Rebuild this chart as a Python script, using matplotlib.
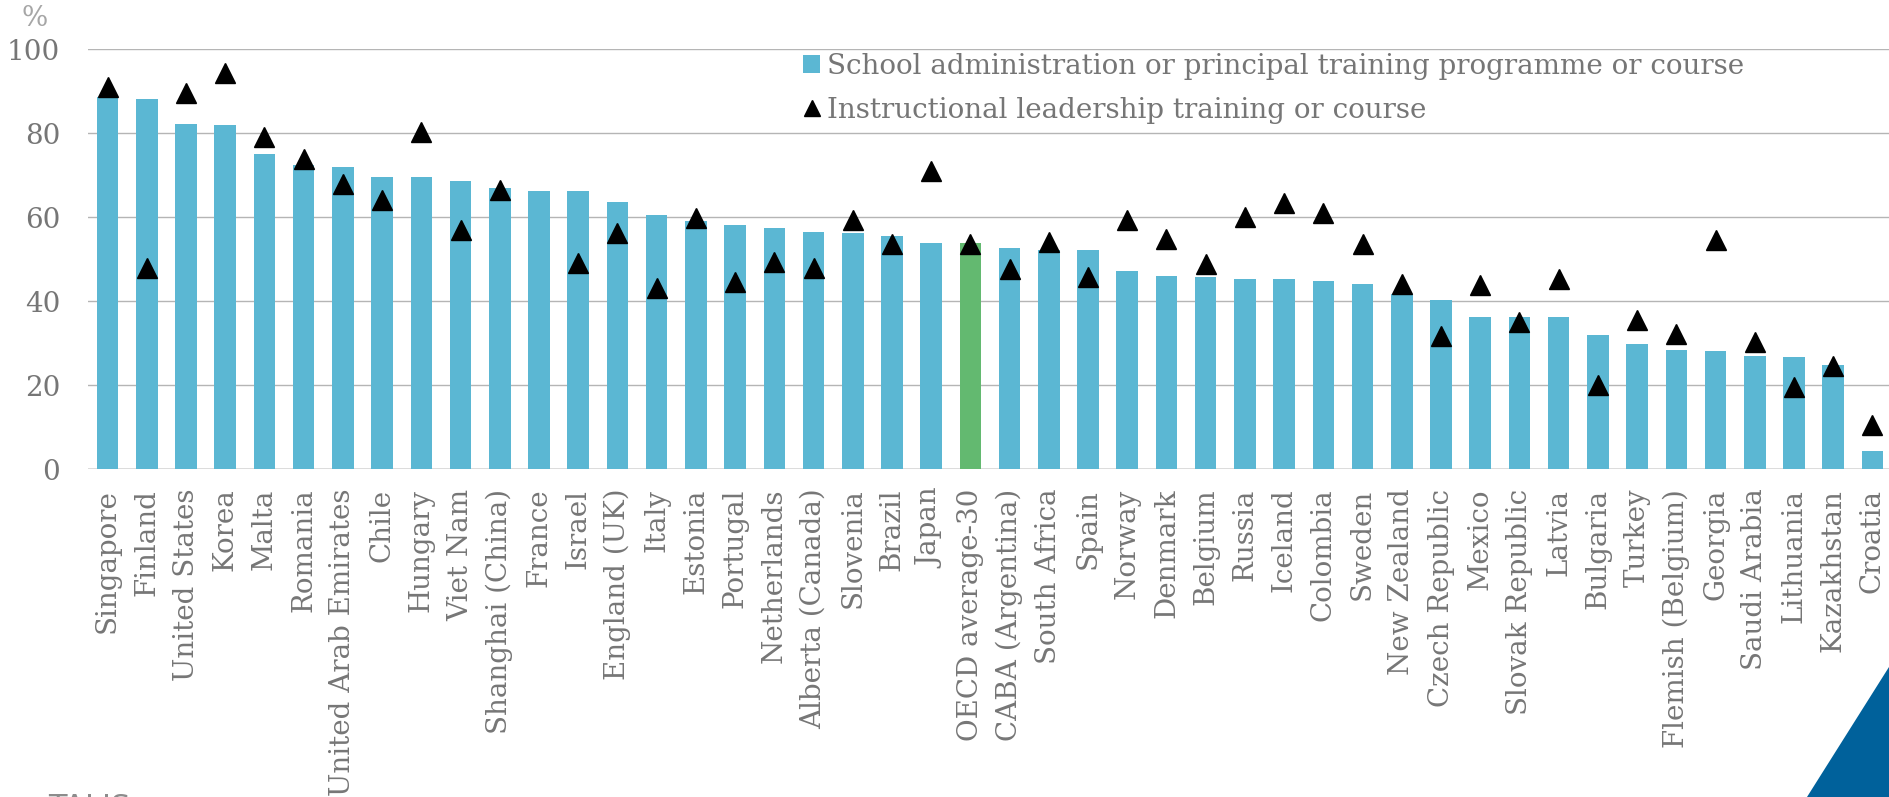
import numpy as np
import matplotlib
matplotlib.use("Agg")
import matplotlib.pyplot as plt
from matplotlib.patches import Patch, Polygon
from matplotlib.lines import Line2D

plt.rcParams['font.family'] = ['DejaVu Serif']

countries = ["Singapore", "Finland", "United States", "Korea", "Malta", "Romania",
             "United Arab Emirates", "Chile", "Hungary", "Viet Nam", "Shanghai (China)",
             "France", "Israel", "England (UK)", "Italy", "Estonia", "Portugal",
             "Netherlands", "Alberta (Canada)", "Slovenia", "Brazil", "Japan",
             "OECD average-30", "CABA (Argentina)", "South Africa", "Spain", "Norway",
             "Denmark", "Belgium", "Russia", "Iceland", "Colombia", "Sweden",
             "New Zealand", "Czech Republic", "Mexico", "Slovak Republic", "Latvia",
             "Bulgaria", "Turkey", "Flemish (Belgium)", "Georgia", "Saudi Arabia",
             "Lithuania", "Kazakhstan", "Croatia"]

# school administration or principal training programme or course
admin = [88.7, 88.2, 82.2, 81.9, 75.1, 72.4, 72.0, 69.6, 69.6, 68.6, 67.0, 66.3,
         66.3, 63.6, 60.5, 59.1, 58.2, 57.5, 56.4, 56.3, 55.5, 53.9, 53.9, 52.7,
         52.2, 52.2, 47.2, 46.0, 45.8, 45.4, 45.2, 44.9, 44.0, 41.7, 40.3, 36.3,
         36.3, 36.2, 31.9, 29.8, 28.4, 28.2, 27.0, 26.8, 24.8, 4.4]

# instructional leadership training or course (France: missing)
instr = [91.0, 47.9, 89.7, 94.3, 79.0, 73.8, 67.9, 64.1, 80.4, 57.0, 66.5, np.nan,
         49.0, 56.3, 43.2, 59.9, 44.6, 49.4, 48.0, 59.4, 53.6, 71.1, 53.6, 47.8,
         54.2, 45.9, 59.4, 54.8, 48.8, 60.0, 63.3, 61.1, 53.6, 44.1, 31.7, 43.8,
         35.1, 45.2, 20.1, 35.5, 32.2, 54.6, 30.4, 19.5, 24.6, 10.5]

labels = ["School administration or principal training programme or course",
          "Instructional leadership training or course"]

blue = '#5bb7d3'
green = '#63b970'
grey_txt = '#767676'
fs = 20

W, H = 1889, 797
fig = plt.figure(figsize=(W / 100, H / 100), dpi=100)
ax = fig.add_axes([88 / W, 1 - 469.3 / H, 1804 / W, 420 / H])

x = np.arange(len(countries))
colors = [green if c.startswith("OECD") else blue for c in countries]
ax.bar(x, admin, width=0.55, color=colors, zorder=2)
ax.plot(x, instr, ls='none', marker='^', ms=14.4, color='black', zorder=3)

ax.set_xlim(-0.5, len(countries) - 0.5)
ax.set_ylim(0, 100)
ax.set_yticks(np.arange(0, 101, 20))
ax.yaxis.grid(True, color='#b5b5b5', lw=1.0, zorder=0)
ax.axhline(0, color='#e3e3e3', lw=2.0, zorder=1)
for s in ax.spines.values():
    s.set_visible(False)

ax.set_xticks(x)
ax.set_xticklabels(countries, rotation=90, va='top', ha='center')
ax.tick_params(axis='x', length=0, pad=14, labelsize=fs, labelcolor=grey_txt)
ax.tick_params(axis='y', length=0, pad=20, labelsize=fs, labelcolor=grey_txt)

fig.text(35 / W, 1 - 19 / H, "%", ha='center', va='center', fontsize=fs, color='#a6a6a6')

handles = [Patch(facecolor=blue, edgecolor='none'),
           Line2D([], [], ls='none', marker='^', ms=11, color='black')]
fig.legend(handles, labels, loc='upper left', bbox_to_anchor=(803 / W, 1 - 53 / H),
           frameon=False, fontsize=fs, labelcolor=grey_txt, borderpad=0,
           borderaxespad=0, handlelength=0.62, handleheight=0.62,
           handletextpad=0.25, labelspacing=0.6)

# corner decoration and cut-off footer
fig.patches.append(Polygon([[1807 / W, 0], [1.0, 130 / H], [1.0, 0]], closed=True,
                           transform=fig.transFigure, facecolor='#00619b',
                           edgecolor='none'))
fig.text(48 / W, 1 - 793 / H, "TALIS", ha='left', va='top', fontsize=22,
         color='#8c8c8c', family='DejaVu Sans')

fig.savefig("out.png", dpi=100)
